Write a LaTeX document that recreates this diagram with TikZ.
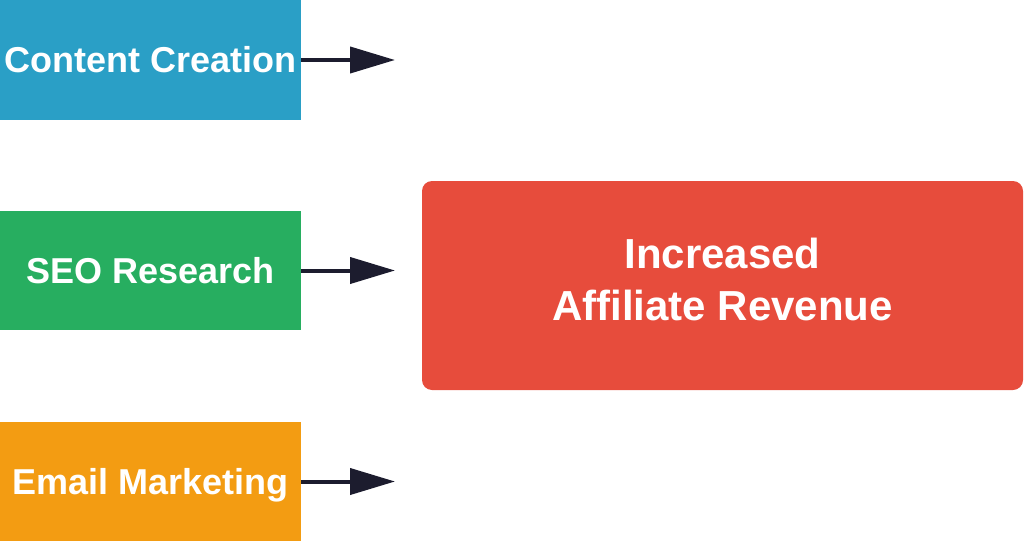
\documentclass[tikz,border=0pt]{standalone}
\usepackage{fontspec}
\setmainfont{Liberation Sans}
\usetikzlibrary{arrows.meta}

\definecolor{boxblue}{RGB}{42,159,198}
\definecolor{boxgreen}{RGB}{39,174,96}
\definecolor{boxorange}{RGB}{243,156,18}
\definecolor{boxred}{RGB}{231,76,60}
\definecolor{arrowink}{RGB}{28,28,46}

\tikzset{
    srcbox/.style={draw=none, minimum width=225.75pt, minimum height=89.25pt, inner sep=0pt,
        text=white, font=\fontsize{27}{32}\selectfont\bfseries},
    goalbox/.style={draw=none, fill=boxred, rounded corners=7.5pt, minimum width=450.75pt,
        minimum height=156.75pt, inner sep=0pt},
    goaltext/.style={inner sep=0pt, align=center, text=white, yshift=4.5pt,
        font=\fontsize{31.5}{39}\selectfont\bfseries},
    flow/.style={draw=arrowink, line width=3pt, -{Triangle[length=33.75pt,width=19.5pt]}}
}

\begin{document}
\begin{tikzpicture}[x=0.75pt,y=0.75pt,yscale=-1,xscale=1]
    % canvas
    \useasboundingbox (0,0) rectangle (1024,542);

    % Text Node
    \node [srcbox, fill=boxblue] (content) at (150.5,60) {Content Creation};
    % Text Node
    \node [srcbox, fill=boxgreen] (seo) at (150.5,270.5) {SEO Research};
    % Text Node
    \node [srcbox, fill=boxorange, text depth=0pt] (email) at (150.5,481.5) {Email Marketing};
    % Text Node
    \node [goalbox, label={[goaltext]center:{Increased\\Affiliate Revenue}}] (revenue) at (722.5,285.5) {};

    % arrow ends
    \coordinate (contentend) at (395,60);
    \coordinate (seoend) at (395,270.5);
    \coordinate (emailend) at (395,481.5);

    % Connection
    \draw [flow] (content.east) -- (contentend);
    % Connection
    \draw [flow] (seo.east) -- (seoend);
    % Connection
    \draw [flow] (email.east) -- (emailend);

\end{tikzpicture}
\end{document}
